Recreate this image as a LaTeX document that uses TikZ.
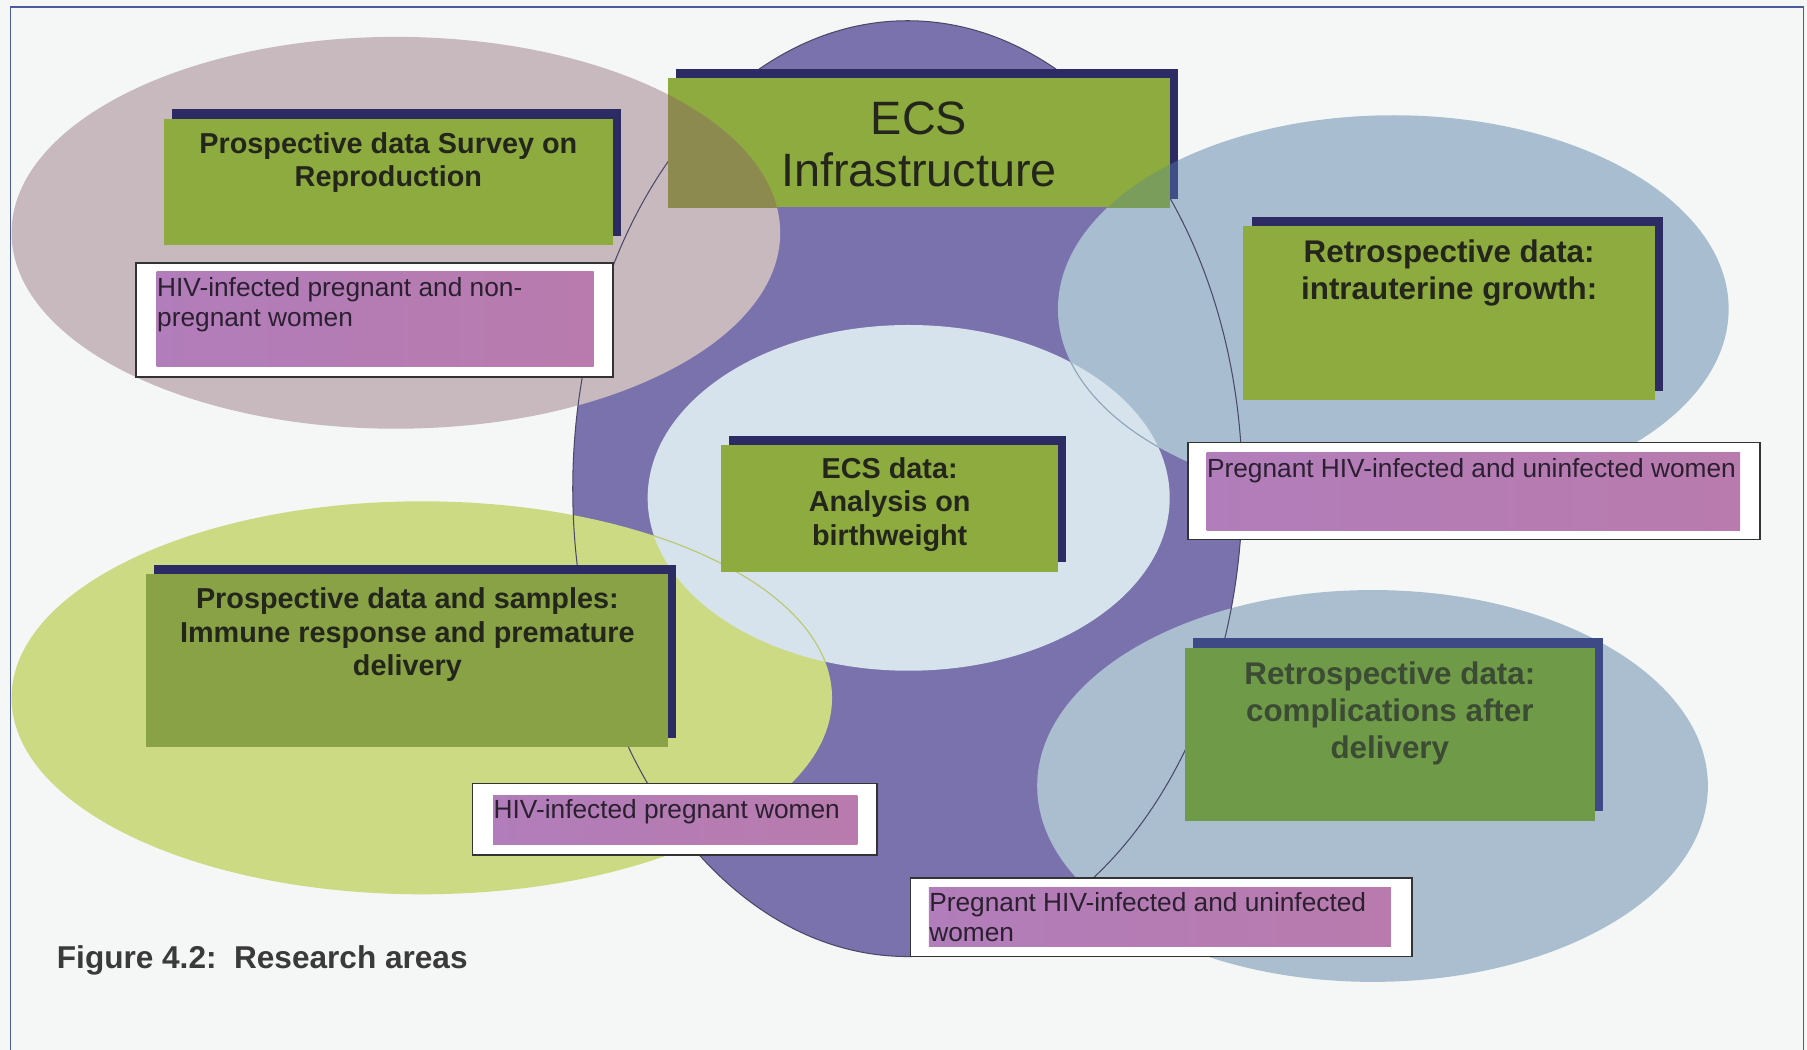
\documentclass[tikz,border=0pt]{standalone}
\usepackage{fontspec}
\setmainfont{Liberation Sans}
\usetikzlibrary{calc,shadows}
\newlength\uu \setlength\uu{0.5pt}
\definecolor{bgc}{HTML}{F4F7F5}
\definecolor{framec}{HTML}{4B5B9E}
\definecolor{purplec}{HTML}{7A72AD}
\definecolor{purpleline}{HTML}{4A4868}
\definecolor{mauvec}{HTML}{C8B9BF}
\definecolor{bluetc}{HTML}{A8BDCF}
\definecolor{bluebc}{HTML}{AABED0}
\definecolor{lightc}{HTML}{D6E3EC}
\definecolor{yellowc}{HTML}{CCDA83}
\definecolor{yellowline}{HTML}{B9C972}
\definecolor{blueline}{HTML}{8FA6B9}
\definecolor{greenc}{HTML}{8EAB3F}
\definecolor{greenD}{HTML}{88A245}
\definecolor{greenE}{HTML}{6F9A48}
\definecolor{shadowc}{HTML}{2D2B63}
\definecolor{shadowE}{HTML}{3D4A85}
\definecolor{pinkL}{HTML}{B17DBA}
\definecolor{pinkR}{HTML}{B97BAD}
\definecolor{ovlM}{HTML}{8C8A4F}
\definecolor{ovlB}{HTML}{7A9D5B}
\definecolor{ovlS}{HTML}{3F4E86}
\definecolor{txtc}{HTML}{24261C}
\definecolor{txtE}{HTML}{3C4B33}
\definecolor{pinktxtc}{HTML}{2A2030}
\definecolor{capc}{HTML}{3A3A3A}
\begin{document}
\begin{tikzpicture}[x=0.5pt,y=-0.5pt,
  greenbox/.style={rectangle, inner sep=0, fill=greenc,
    general shadow={fill=shadowc, shadow xshift=3.5pt, shadow yshift=4pt}},
  pinkframe/.style={rectangle, inner sep=0, fill=white, draw=black!80, line width=0.7pt},
  pinkfill/.style={rectangle, inner sep=0, left color=pinkL, right color=pinkR},
  boldtxt/.style={font=\bfseries\fontsize{12.5}{14.5}\selectfont, align=center, inner sep=0, text=txtc},
  bigtxt/.style={font=\bfseries\fontsize{13.6}{16}\selectfont, align=center, inner sep=0, text=txtc},
  ecstxt/.style={font=\fontsize{20.3}{22.6}\selectfont, align=center, inner sep=0, text=txtc},
  pinktxt/.style={font=\fontsize{11.4}{13}\selectfont, align=left, inner sep=0, text=pinktxtc}]
\useasboundingbox (0,0) rectangle (1568,911);
\fill[bgc] (0,0) rectangle (1568,911);
\draw[framec, line width=0.6pt] (9,960) -- (9,6) -- (1565,6) -- (1565,960);

% ellipses
\fill[purplec] (787.5,424) ellipse [x radius=290.5, y radius=406];
\fill[mauvec] (343.5,202) ellipse [x radius=333.5, y radius=170];
\fill[bluetc] (1209,268) ellipse [x radius=291, y radius=168];
\fill[yellowc] (366,605.5) ellipse [x radius=356, y radius=170.5];
\fill[bluebc] (1191,682) ellipse [x radius=291, y radius=170];
\fill[lightc] (788.5,432) ellipse [x radius=226.5, y radius=150];
\begin{scope}
  \clip (788.5,432) ellipse [x radius=226.5, y radius=150];
  \draw[yellowline, line width=0.5pt] (366,605.5) ellipse [x radius=356, y radius=170.5];
  \draw[blueline, line width=0.5pt] (1209,268) ellipse [x radius=291, y radius=168];
\end{scope}
\draw[purpleline, line width=0.45pt] (787.5,424) ellipse [x radius=290.5, y radius=406];

% green boxes
\node[greenbox, minimum width=390\uu, minimum height=110\uu] (A) at (337,158) {};
\node[greenbox, minimum width=435\uu, minimum height=112\uu] (ecs) at (797.5,124) {};
\node[greenbox, minimum width=357\uu, minimum height=151\uu] (B) at (1257.5,271.5) {};
\node[greenbox, minimum width=292\uu, minimum height=110\uu] (C) at (772,441) {};
\node[greenbox, fill=greenD, minimum width=453\uu, minimum height=150\uu] (D) at (353.5,573) {};
\node[greenbox, fill=greenE, general shadow={fill=shadowE, shadow xshift=3.5pt, shadow yshift=4pt}, minimum width=356\uu, minimum height=150\uu] (E) at (1206,637) {};

% tinted overlaps of the ECS box
\begin{scope}
  \clip (343.5,202) ellipse [x radius=333.5, y radius=170];
  \fill[ovlM] (ecs.north west) rectangle (ecs.south east);
\end{scope}
\begin{scope}
  \clip (1209,268) ellipse [x radius=291, y radius=168];
  \fill[ovlB] (ecs.north west) rectangle (ecs.south east);
  \fill[ovlS] ($(ecs.north east)+(0,-8)$) rectangle ($(ecs.south east)+(7,-8)$);
\end{scope}

% pink boxes
\node[pinkframe, minimum width=414\uu, minimum height=99\uu] (pA) at (325,277.5) {};
\node[pinkfill, minimum width=379\uu, minimum height=82\uu] (pAi) at (325.5,277) {};
\node[pinkframe, minimum width=496\uu, minimum height=84\uu] (pB) at (1279,426) {};
\node[pinkfill, minimum width=463\uu, minimum height=67\uu] (pBi) at (1278.5,426.5) {};
\node[pinkframe, minimum width=351\uu, minimum height=62\uu] (pD) at (585.5,711) {};
\node[pinkfill, minimum width=316\uu, minimum height=43\uu] (pDi) at (586,711.5) {};
\node[pinkframe, minimum width=435\uu, minimum height=68\uu] (pE) at (1007.5,796) {};
\node[pinkfill, minimum width=401\uu, minimum height=51\uu] (pEi) at (1006.5,795.5) {};

% texts
\node[boldtxt, anchor=north] (tA) at (337,114.7) {Prospective data Survey on\\Reproduction};
\node[ecstxt, anchor=north] (tecs) at (797.5,88) {ECS\\Infrastructure};
\node[bigtxt, anchor=north] (tB) at (1257.5,208) {Retrospective data:\\intrauterine growth:};
\node[boldtxt, anchor=north] (tC) at (772,396.7) {ECS data:\\Analysis on\\birthweight};
\node[boldtxt, anchor=north] (tD) at (353.5,509.7) {Prospective data and samples:\\Immune response and premature\\delivery};
\node[bigtxt, text=txtE, anchor=north] (tE) at (1206,574) {Retrospective data:\\complications after\\delivery};

\node[pinktxt, anchor=north west] (tpA) at (136,240.4) {HIV-infected pregnant and non-\\pregnant women};
\node[pinktxt, anchor=base west] (tpB) at (1047,414) {Pregnant HIV-infected and uninfected women};
\node[pinktxt, anchor=base west] (tpD) at (428,710) {HIV-infected pregnant women};
\node[pinktxt, anchor=north west] (tpE) at (806,774.4) {Pregnant HIV-infected and uninfected\\women};

\node[anchor=base west, inner sep=0, text=capc, font=\bfseries\fontsize{13.7}{16}\selectfont] (cap) at (49,840) {Figure 4.2:\ \ Research areas};
\end{tikzpicture}
\end{document}
